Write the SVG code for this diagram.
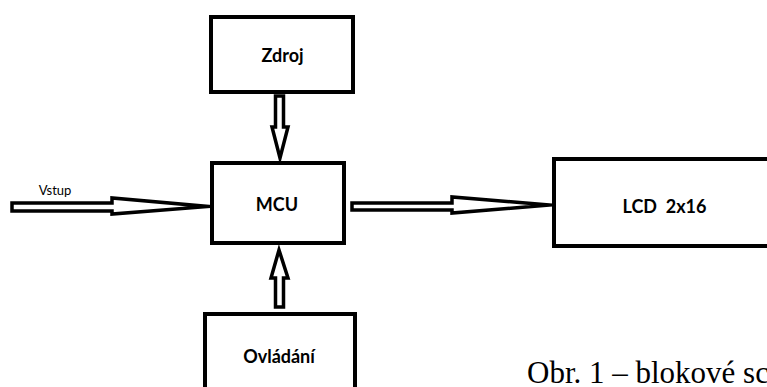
<svg xmlns="http://www.w3.org/2000/svg" width="767" height="387" viewBox="0 0 767 387">
  <style>
    .box { fill: #ffffff; stroke: #000000; stroke-width: 4; }
    .arrow { fill: #ffffff; stroke: #000000; stroke-width: 3.5; stroke-linejoin: miter; stroke-miterlimit: 20; }
    .label { font-family: Lato, "Open Sans", "Liberation Sans", sans-serif; font-weight: 700; font-size: 18px; fill: #000000; text-anchor: middle; }
    .small { font-family: Lato, "Open Sans", "Liberation Sans", sans-serif; font-size: 13px; fill: #000000; text-anchor: middle; }
    .caption { font-family: "Liberation Serif", "Times New Roman", serif; font-size: 31px; fill: #000000; }
  </style>
  <rect width="767" height="387" fill="#ffffff"/>

  <g id="connectors">
    <!-- input arrow into MCU -->
    <polygon class="arrow" points="12,203 112,203 112,198 208,206.5 112,214 112,211 12,211"/>
    <!-- MCU to LCD -->
    <polygon class="arrow" points="352,203 452,203 452,197 549,205 452,213 452,210 352,210"/>
    <!-- power supply down to MCU -->
    <polygon class="arrow" points="275.5,96 283.5,96 283.5,127 288,127 280,158 272,127 275.5,127"/>
    <!-- controls up to MCU -->
    <polygon class="arrow" points="279,250 288,278 283.5,278 283.5,307 275.5,307 275.5,278 271,278"/>
  </g>

  <g id="vstup-label">
    <text class="small" x="55" y="195">Vstup</text>
  </g>

  <g id="zdroj">
    <rect class="box" x="211" y="17" width="142" height="75"/>
    <text class="label" x="282.5" y="62">Zdroj</text>
  </g>

  <g id="mcu">
    <rect class="box" x="212" y="163" width="132" height="80"/>
    <text class="label" x="277" y="211">MCU</text>
  </g>

  <g id="lcd">
    <rect class="box" x="554" y="159" width="230" height="87"/>
    <text class="label" x="664.5" y="213" xml:space="preserve">LCD  2x16</text>
  </g>

  <g id="ovladani">
    <rect class="box" x="205" y="314" width="150" height="100"/>
    <text class="label" x="279" y="363">Ovládání</text>
  </g>

  <g id="caption">
    <text class="caption" x="527" y="383">Obr. 1 – blokové sc</text>
  </g>
</svg>
